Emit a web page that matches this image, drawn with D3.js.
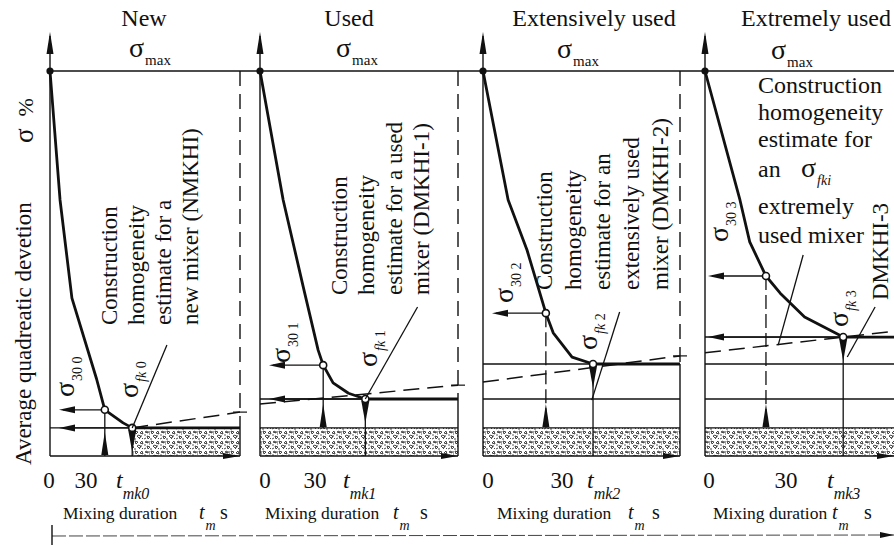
<!DOCTYPE html>
<html>
<head>
<meta charset="utf-8">
<script src="https://cdn.jsdelivr.net/npm/d3@7/dist/d3.min.js"></script>
<style>
  body { margin: 0; background: #fff; }
  svg text { font-family: "Liberation Serif", "Times New Roman", serif; fill: #111; }
</style>
</head>
<body>
<div id="container"></div>
<script>
let w = 894;
let h = 545;

// ---- data (time in s, sigma in % of sigma max) ----
let panelTitles = ["New", "Used", "Extensively used", "Extremely used"];
let tMax = [104, 94, 94, 93];
let curveNew = [[0,100],[5.5,66.5],[12,41],[25.5,20],[30,12],[40,8.6],[45,7.3],[104,7.3]];
let curveUsed = [[0,100],[11,66.5],[20.5,44],[27.6,27.5],[30,23.6],[34.7,19],[42,16.3],[50,14.8],[94,14.8]];
let curveExtensive = [[0,100],[12,66.5],[21,53.5],[30,37.1],[33.5,32],[42.5,25.7],[52.5,23.9],[94,23.9]];
let curveExtreme = [[0,100],[17.2,66.5],[22,55.6],[30,46.75],[37,42.3],[49,36.1],[68,30.9],[93,30.9]];
let curves = [curveNew, curveUsed, curveExtensive, curveExtreme];
let sigma30 = [12, 23.6, 37.1, 46.75];
let tmk = [45, 50, 52.5, 68];
let sigmaFk = [7.3, 14.8, 23.9, 30.9];
let estimateFrom = [[45,7.3],[0,13.5],[0,19.2],[0,26.8]];
let estimateTo = [[104,11.4],[94,18.4],[94,26],[93,32.4]];
let leaderFrom = [[45,7.3],[50,14.8],[51.9,14.5],[36,28.8],[70,25.7]];
let leaderTo = [[64,28.8],[74.8,38.7],[65.2,37.4],[48.3,52.2],[83.7,38.7]];
let leaderPanel = [0, 1, 2, 3, 3];
let hatchFrom = [45, 0, 0, 0];
let fkArrow = [true, true, false, true];
let sigma30Subs = ["30 0", "30 1", "30 2", "30 3"];
let fkSubs = ["0", "1", "2", "3"];
let tmkSubs = ["mk0", "mk1", "mk2", "mk3"];
let noteLines = [
  ["Construction", "homogeneity", "estimate for a", "new mixer (NMKHI)"],
  ["Construction", "homogeneity", "estimate for a used", "mixer (DMKHI-1)"],
  ["Construction", "homogeneity", "estimate for an", "extensively used", "mixer (DMKHI-2)"]
];
let noteExtreme = ["Construction", "homogeneity", "estimate for", "an", "extremely", "used mixer"];

// ---- layout ----
let panelLeft = [50, 260, 483, 705];
let panelRight = [240, 458, 680, 894];
let ink = "#111";

let svg = d3.select("#container").append("svg")
  .attr("width", w).attr("height", h)
  .style("background-color", "#fff");

let defs = svg.append("defs");
let pat = defs.append("pattern").attr("id", "gravel")
  .attr("patternUnits", "userSpaceOnUse").attr("width", 16).attr("height", 10);
pat.append("rect").attr("width", 16).attr("height", 10).attr("fill", "#fff");
pat.append("path")
  .attr("d", "M1,2l2,-1l1,2z M7,1l3,1l-2,2z M12,3l2,-2l1,3z M3,6l3,1l-2,2z M9,6l2,-1l2,2l-2,1z M14,8l1,1 M0,9l2,-1 M5,4l1,0 M11,9l1,-1 M6,9l2,0")
  .attr("fill", "none").attr("stroke", "#333").attr("stroke-width", 0.9);
pat.append("circle").attr("cx", 5).attr("cy", 2).attr("r", 0.8).attr("fill", "#222");
pat.append("circle").attr("cx", 13).attr("cy", 6).attr("r", 0.8).attr("fill", "#222");
pat.append("circle").attr("cx", 1).attr("cy", 5).attr("r", 0.7).attr("fill", "#222");

let yScale = d3.scaleLinear().domain([0, 100]).range([456, 71]);
let xScales = panelTitles.map((d, i) => d3.scaleLinear().domain([0, tMax[i]]).range([panelLeft[i], panelRight[i]]));

function arrowHead(g, x, y, dx, dy, len, half) {
  let bx = x - dx * len, by = y - dy * len;
  let px = -dy * half, py = dx * half;
  g.append("path")
    .attr("d", "M" + x + "," + y + "L" + (bx + px) + "," + (by + py) + "L" + (bx - px) + "," + (by - py) + "Z")
    .attr("fill", ink);
}

function hline(g, x1, x2, y, sw, dash) {
  g.append("line").attr("x1", x1).attr("x2", x2).attr("y1", y).attr("y2", y)
    .attr("stroke", ink).attr("stroke-width", sw || 1.4)
    .attr("stroke-dasharray", dash || null);
}
function vline(g, x, y1, y2, sw, dash) {
  g.append("line").attr("x1", x).attr("x2", x).attr("y1", y1).attr("y2", y2)
    .attr("stroke", ink).attr("stroke-width", sw || 1.4)
    .attr("stroke-dasharray", dash || null);
}

// sigma with subscript; parts = [[text, italic], ...]
function sigmaText(g, x, y, parts, rotated, size, subSize) {
  let t = g.append("text")
    .attr("transform", "translate(" + x + "," + y + ")" + (rotated ? " rotate(-90)" : ""))
    .style("font-size", size + "px");
  t.append("tspan").text("σ");
  parts.forEach((p, k) => {
    t.append("tspan")
      .attr("dy", k == 0 ? 8 : null)
      .attr("dx", k == 0 ? 1 : null)
      .style("font-size", subSize + "px")
      .style("font-style", p[1] ? "italic" : "normal")
      .text(p[0]);
  });
  return t;
}

// top sigma max line, across all panels
hline(svg, panelLeft[0], w, yScale(100), 1.6);

let lineGen = d3.line().x(d => d[0]).y(d => d[1]);

panelTitles.forEach((title, i) => {
  let x = xScales[i];
  let g = svg.append("g").attr("class", "panel");
  let x0 = x(0), x1 = x(tMax[i]);

  // hatched band (sigma below sigma_fk0)
  g.append("rect")
    .attr("x", x(hatchFrom[i])).attr("y", yScale(sigmaFk[0]))
    .attr("width", x1 - x(hatchFrom[i])).attr("height", yScale(0) - yScale(sigmaFk[0]))
    .attr("fill", "url(#gravel)");

  // level lines of the previous and current sigma_fk
  for (let j = 0; j <= i; j++) hline(g, x0, x1, yScale(sigmaFk[j]), 1.4);
  hline(g, x0, x1, yScale(0), 1.6);

  // right boundary: dashed above the level, solid below
  if (i < 3) {
    vline(g, x1, yScale(100), yScale(sigmaFk[i]), 1.4, "15,8");
    vline(g, x1, yScale(sigmaFk[i]), yScale(0), 1.4);
    hline(g, x1 - 7, x1 + 7, yScale(estimateTo[i][1]), 1.2);
  }

  // y axis with arrow
  vline(g, x0, yScale(0), 36, 1.4);
  arrowHead(g, x0, 32, 0, -1, 22, 3.5);

  // bottom arrow
  arrowHead(g, Math.min(x1, w), yScale(0), 1, 0, 17, 3);

  // construction estimate (dashed)
  let e0 = estimateFrom[i], e1 = estimateTo[i];
  g.append("line")
    .attr("x1", x(e0[0])).attr("y1", yScale(e0[1]))
    .attr("x2", x(e1[0])).attr("y2", yScale(e1[1]))
    .attr("stroke", ink).attr("stroke-width", 1.5).attr("stroke-dasharray", "16,8");

  // sigma30 projections
  let x30 = x(30), y30 = yScale(sigma30[i]);
  let yBase = i == 0 ? yScale(0) : yScale(sigmaFk[0]);
  vline(g, x30, y30, yBase, 1.3, i >= 2 ? "14,5" : null);
  arrowHead(g, x30, yBase - 24, 0, -1, 23, 3.5);
  let tipX = i == 3 ? x0 + 3 : x0 + 9;
  hline(g, tipX + 4, x30, y30, 1.3);
  arrowHead(g, tipX, y30, -1, 0, 16, 3.5);

  // sigma_fk projections
  let xk = x(tmk[i]), yk = yScale(sigmaFk[i]);
  vline(g, xk, yk, yScale(0), 1.3);
  arrowHead(g, xk, yk + 24, 0, 1, 22, 4);
  if (fkArrow[i]) {
    hline(g, tipX + 4, xk, yk, 1.3);
    arrowHead(g, tipX, yk, -1, 0, 16, 3.5);
  }

  // curve
  g.append("path")
    .attr("d", lineGen(curves[i].map(d => [x(d[0]), yScale(d[1])])))
    .attr("fill", "none").attr("stroke", ink).attr("stroke-width", 2.8)
    .attr("stroke-linejoin", "round");

  // points
  g.append("circle").attr("cx", x0).attr("cy", yScale(100)).attr("r", 3.6).attr("fill", ink);
  [[30, sigma30[i]], [tmk[i], sigmaFk[i]]].forEach(p => {
    g.append("circle").attr("cx", x(p[0])).attr("cy", yScale(p[1])).attr("r", 3.5)
      .attr("fill", "#fff").attr("stroke", ink).attr("stroke-width", 1.6);
  });

  // titles
  g.append("text").attr("x", [144, 349, 594, 816][i]).attr("y", 26)
    .attr("text-anchor", "middle").style("font-size", "24px").text(title);
  sigmaText(g, [129, 336, 557, 771][i], [57, 57, 58, 59][i], [["max", false]], false, 28, 15);

  // tick labels
  let tickY = 488;
  g.append("text").attr("x", [49, 265, 488, 709][i]).attr("y", tickY)
    .attr("text-anchor", "middle").style("font-size", "23px").text("0");
  g.append("text").attr("x", [86, 315, 562, 786][i]).attr("y", tickY)
    .attr("text-anchor", "middle").style("font-size", "23px").text("30");
  let tl = g.append("text").attr("x", [116, 343, 587, 827][i]).attr("y", tickY)
    .style("font-size", "24px");
  tl.append("tspan").style("font-style", "italic").text("t");
  tl.append("tspan").attr("dy", 11).style("font-style", "italic")
    .style("font-size", "16px").text(tmkSubs[i]);

  // axis title, one text element
  let xt = [[63, 199, 220], [265, 393, 420], [497, 628, 652], [713, 832, 864]][i];
  let at = g.append("text").attr("x", xt[0]).attr("y", 519).style("font-size", "17.5px");
  at.append("tspan").text("Mixing duration");
  at.append("tspan").attr("x", xt[1]).style("font-size", "20px").style("font-style", "italic").text("t");
  at.append("tspan").attr("dy", 11).attr("dx", 1).style("font-style", "italic").style("font-size", "14px").text("m");
  at.append("tspan").attr("x", xt[2]).attr("dy", -11).style("font-size", "20px").text("s");

  // sigma labels (rotated)
  let s30pos = [[74, 397], [290, 363], [513, 303], [728, 242]][i];
  sigmaText(g, s30pos[0], s30pos[1], [[sigma30Subs[i], false]], true, 28, 14);
  let sfkpos = [[138, 398], [377, 367], [597, 350], [848, 327]][i];
  sigmaText(g, sfkpos[0], sfkpos[1], [["fk", true], [" " + fkSubs[i], false]], true, 28, 14);
});

// leader lines
leaderFrom.forEach((d, k) => {
  let x = xScales[leaderPanel[k]];
  svg.append("line")
    .attr("x1", x(d[0])).attr("y1", yScale(d[1]))
    .attr("x2", x(leaderTo[k][0])).attr("y2", yScale(leaderTo[k][1]))
    .attr("stroke", ink).attr("stroke-width", 1.3);
});

// rotated notes
let noteX = [[117, 144, 171, 198], [347, 374, 402, 429], [552, 581, 610, 639, 668]];
let noteY = [325, 295, 290];
noteLines.forEach((lines, i) => {
  lines.forEach((s, k) => {
    svg.append("text")
      .attr("transform", "translate(" + noteX[i][k] + "," + noteY[i] + ") rotate(-90)")
      .style("font-size", "23px").text(s);
  });
});

// extreme panel note (horizontal)
let noteExY = [93, 120, 147, 177, 214, 243];
noteExtreme.forEach((s, k) => {
  svg.append("text").attr("x", 758).attr("y", noteExY[k]).style("font-size", "24px").text(s);
});
sigmaText(svg, 801, 177, [["fki", true]], false, 28, 14);
svg.append("text")
  .attr("transform", "translate(888,300) rotate(-90)")
  .style("font-size", "23px").text("DMKHI-3");

// y axis title
svg.append("text").attr("transform", "translate(31,465) rotate(-90)")
  .style("font-size", "23px").text("Average quadreatic devetion");
let yt = svg.append("text").attr("transform", "translate(33,143) rotate(-90)").style("font-size", "27px");
yt.append("tspan").text("σ");
yt.append("tspan").attr("dx", 12).style("font-size", "22px").text("%");

// bottom time line
svg.append("line").attr("x1", 52).attr("x2", w).attr("y1", 536).attr("y2", 535)
  .attr("stroke", "#444").attr("stroke-width", 1).attr("stroke-dasharray", "14,3");
vline(svg, 52, 525, 546, 1.4);
arrowHead(svg, w, 535, 1, 0, 14, 3);
</script>
</body>
</html>
